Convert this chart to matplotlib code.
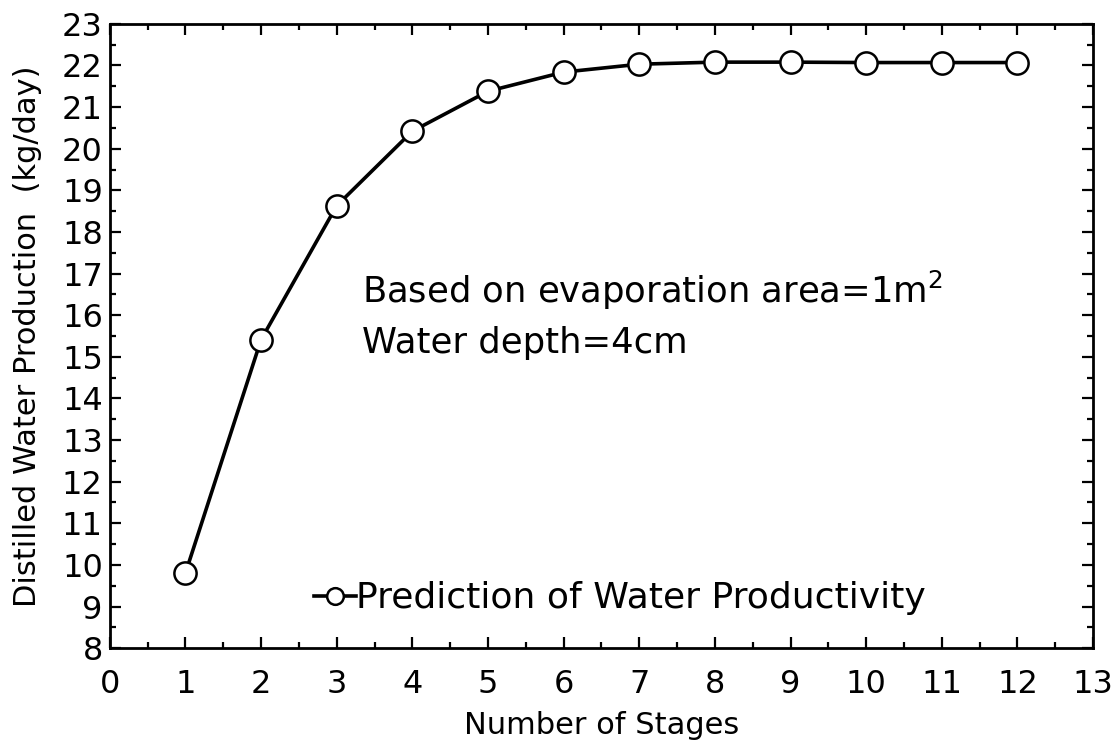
import numpy as np
import matplotlib.pyplot as plt
from matplotlib.ticker import MultipleLocator

plt.rcParams.update({
    "font.family": ["DejaVu Sans"],
    "mathtext.fontset": "dejavusans",
    "xtick.direction": "in",
    "ytick.direction": "in",
})

# data
stages = [1, 2, 3, 4, 5, 6, 7, 8, 9, 10, 11, 12]
production = [9.80, 15.41, 18.63, 20.42, 21.38, 21.84, 22.03, 22.08, 22.08, 22.07, 22.07, 22.07]

fig = plt.figure(figsize=(11.2, 7.45), dpi=100)
ax = fig.add_axes([0.098, 0.130, 0.878, 0.838])

ax.plot(stages, production, color="black", lw=2.6, marker="o", ms=16,
        mfc="white", mec="black", mew=1.8, label="Prediction of Water Productivity")

ax.set_xlim(0, 13)
ax.set_ylim(8, 23)
ax.xaxis.set_major_locator(MultipleLocator(1))
ax.xaxis.set_minor_locator(MultipleLocator(0.5))
ax.yaxis.set_major_locator(MultipleLocator(1))
ax.yaxis.set_minor_locator(MultipleLocator(0.5))
ax.tick_params(which="both", top=True, right=True, width=1.6)
ax.tick_params(which="major", length=8, labelsize=23)
ax.tick_params(axis="x", which="major", pad=15)
ax.tick_params(axis="y", which="major", pad=5)
ax.tick_params(which="minor", length=4)
for s in ax.spines.values():
    s.set_linewidth(2)

ax.set_xlabel("Number of Stages", fontsize=22, labelpad=8)
ax.set_ylabel("Distilled Water Production  (kg/day)", fontsize=22, labelpad=14)

ax.text(0.256, 0.553, "Based on evaporation area=1m$^2$", transform=ax.transAxes, fontsize=25.5)
ax.text(0.256, 0.473, "Water depth=4cm", transform=ax.transAxes, fontsize=25.5)

ax.legend(loc="center left", bbox_to_anchor=(0.208, 0.08), frameon=False, fontsize=26,
          handlelength=1.15, handletextpad=0.0, markerscale=0.75, borderpad=0,
          borderaxespad=0)

fig.savefig("out.png", dpi=100)
